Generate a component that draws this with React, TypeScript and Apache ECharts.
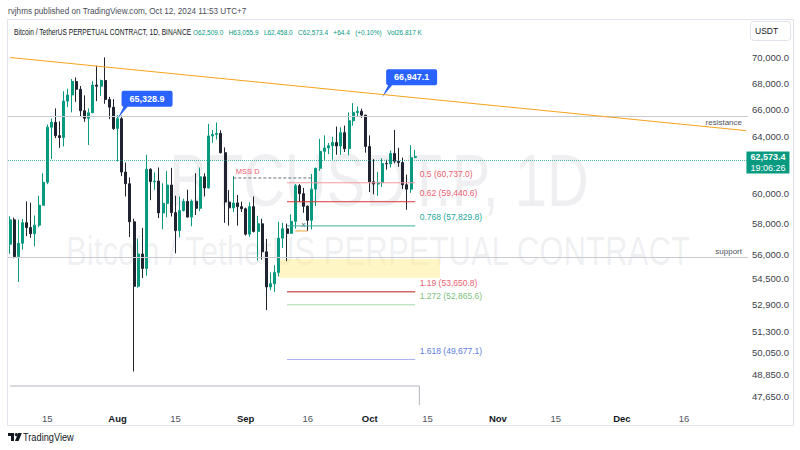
import { useEffect, useRef } from 'react';
import * as echarts from 'echarts';

// ---- calendar (category axis) ----
const FIRST_DAY = '2024-07-06';
const LAST_DAY = '2024-12-31';

// ---- daily candles Jul 6 .. Oct 12, 2024 (BTCUSDT.P, 1D) ----
const openPrices = [
  56640, 58230, 55850, 56700, 58040, 57720, 57320, 57880, 59200, 60770, 64700, 65060, 64080, 63950, 66650, 67120,
  68150, 67550, 65920, 65360, 65770, 67880, 67790, 68230, 66770, 66190,
  64600, 65330, 61480, 60670, 58100, 53990, 56010, 55100, 61680, 60820, 60860, 58690, 59330, 60580, 58710, 57520,
  58850, 59460, 58410, 59470, 59000, 61150, 60380, 64060, 64170, 64250, 62850, 59420, 59030, 59360, 59110,
  58970, 57290, 59110, 57470, 57970, 56150, 53950, 54150, 54850, 57030, 57640, 57340, 58130, 60540, 59990, 59130,
  58200, 60300, 61750, 62950, 63190, 63350, 63580, 63330, 64300, 63140, 65180, 65790, 65880, 65600,
  63300, 60800, 60650, 60750, 62080, 62060, 62800, 62250, 62150, 60600, 60300, 62509,
];
const highPrices = [
  58470, 58380, 58240, 58290, 59470, 59380, 58520, 59850, 61400, 64900, 65350, 66100, 65130, 67400, 67600, 68350,
  68470, 67800, 67090, 66100, 68200, 69380, 68300, 70050, 66970, 66800,
  65600, 65560, 62150, 61100, 58300, 57000, 57700, 62700, 61750, 61450, 61800, 60700, 61550, 61780, 59850, 59800,
  59650, 60260, 59600, 61400, 61800, 61400, 64950, 64500, 65050, 64480, 63230, 60230, 61200, 59900, 59450,
  59050, 59400, 59800, 58500, 58300, 56980, 54850, 55300, 58100, 58030, 57980, 58600, 60650, 60650, 60380, 59200,
  61350, 61780, 63850, 64100, 63550, 64000, 64750, 64700, 64820, 65800, 66500, 66250, 66080, 65600,
  64100, 62400, 61500, 62450, 62350, 63000, 64500, 63200, 62500, 61300, 63400, 63055.9,
];
const lowPrices = [
  56020, 55740, 54250, 56290, 57160, 57050, 56500, 57750, 59200, 60640, 62400, 63900, 63200, 63300, 66200, 65800,
  66600, 65450, 65100, 63400, 65750, 66650, 67050, 66450, 65300, 64500,
  62230, 61200, 59800, 57100, 49000, 53900, 54500, 54650, 59550, 60250, 58350, 57600, 58400, 58450, 56050, 57080,
  58780, 58400, 57800, 58550, 58800, 59800, 60350, 63560, 63800, 62800, 58030, 57850, 58750, 57850, 58750,
  57200, 57120, 57400, 55600, 55650, 52550, 53750, 53650, 54600, 56400, 55550, 57330, 57650, 59450, 58700, 57500,
  57600, 59150, 61570, 62350, 62750, 62350, 62700, 62700, 62900, 62670, 64820, 65450, 65400, 62850,
  60100, 59950, 59850, 60450, 61650, 61800, 62100, 61850, 60300, 58900, 60050, 62458,
];
const closePrices = [
  58230, 55850, 56700, 58040, 57720, 57320, 57880, 59200, 60770, 64700, 65060, 64080, 63950, 66650, 67120, 68150,
  67550, 65920, 65360, 65770, 67880, 67790, 68230, 66770, 66190, 64600,
  65328.9, 61480, 60670, 58100, 53990, 56010, 55100, 61680, 60820, 60860, 58690, 59330, 60580, 58710, 57520, 58850,
  59460, 58410, 59470, 59000, 61150, 60380, 64060, 64170, 64250, 62850, 59420, 59030, 59360, 59110, 58970,
  57290, 59110, 57470, 57970, 56150, 53950, 54150, 54850, 57030, 57640, 57340, 58130, 60540, 59990, 59130, 58200,
  60300, 61750, 62950, 63190, 63350, 63580, 63330, 64300, 63140, 65180, 65790, 65880, 65600, 63300,
  60800, 60650, 60750, 62080, 62060, 62800, 62250, 62150, 60600, 60300, 62500, 62573.4,
];

// ---- price axis (log scale, TradingView style) ----
const yTickPrices = [70000, 68000, 66000, 64000, 60000, 58000, 56000, 54500, 52900, 51300, 50050, 48850, 47650];
const Y_TOP_PRICE = 73175;
const Y_BOTTOM_PRICE = 47171;

// ---- time axis ticks ----
const xTickDates = ['2024-07-15', '2024-08-01', '2024-08-15', '2024-09-01', '2024-09-16', '2024-10-01',
  '2024-10-15', '2024-11-01', '2024-11-15', '2024-12-01', '2024-12-16'];
const xTickLabels = ['15', 'Aug', '15', 'Sep', '16', 'Oct', '15', 'Nov', '15', 'Dec', '16'];

// ---- drawings ----
const trendDates = ['2024-07-06', '2024-12-31'];
const trendPrices = [70040, 64450];
const resistancePrice = 65430;
const supportPrice = 55830;
const lastPrice = 62573.4;
const lastCountdown = '19:06:26';
const baselinePrice = 48200;
const baselineDates = ['2024-07-06', '2024-10-13'];
const mssDates = ['2024-08-29', '2024-09-17'];
const mssPrice = 61070;
const fibRatios = ['0.5', '0.62', '0.768', '1.19', '1.272', '1.618'];
const fibPrices = [60737.0, 59440.6, 57829.8, 53650.8, 52865.6, 49677.1];
const fibLineColors = ['#f29aa2', '#d9363e', '#3fae9f', '#b71c1c', '#a9d6a9', '#aab3f0'];
const fibTextColors = ['#e8606f', '#e8606f', '#26a69a', '#e8606f', '#7cbf7c', '#5b7be0'];
const fibDates = ['2024-09-11', '2024-10-12'];
const zoneDates = ['2024-09-09', '2024-10-18'];
const zonePrices = [55700, 54520];
const sweepDates = ['2024-09-13', '2024-09-16'];
const sweepPrice = 57500;
const sweepMarkDate = '2024-09-15';
const sweepMarkPrice = 57890;
const calloutDates = ['2024-08-01', '2024-10-04'];
const calloutPrices = [65328.9, 66947.1];

const FONT = 'Liberation Sans, Arial, sans-serif';
const L = Math.log;
const fmt = (v: number) => v.toLocaleString('en-US', { minimumFractionDigits: 1, maximumFractionDigits: 1 });

function buildDays(): string[] {
  const out: string[] = [];
  const d = new Date(FIRST_DAY + 'T00:00:00Z');
  const end = new Date(LAST_DAY + 'T00:00:00Z').getTime();
  while (d.getTime() <= end) {
    out.push(d.toISOString().slice(0, 10));
    d.setUTCDate(d.getUTCDate() + 1);
  }
  return out;
}

const CALLOUT_PATH = 'path://M4,2 Q4,0 6,0 L53,0 Q55,0 55,2 L55,14 Q55,16 53,16 L10,16 L0,28 L6,16 Q4,16 4,14 Z';

function segment(name: string, dates: string[], prices: number[], color: string, type: any, z: number): any {
  return {
    type: 'line', name, z, silent: true, symbol: 'none', color,
    data: dates.map((d, i) => [d, L(prices[i])]),
    lineStyle: { color, width: 1, type },
  };
}

export default function App() {
  const ref = useRef<HTMLDivElement>(null);
  useEffect(() => {
    if (!ref.current) return;
    const chart = echarts.init(ref.current, null, { renderer: 'svg' });
    const days = buildDays();
    const candles = openPrices.map((o, i) => [L(o), L(closePrices[i]), L(lowPrices[i]), L(highPrices[i])]);
    const yMin = L(Y_BOTTOM_PRICE);

    const fibSeries = fibPrices.map((p, i) => ({
      ...segment('fib ' + fibRatios[i], fibDates, [p, p], fibLineColors[i], 'solid', 6),
      markPoint: {
        silent: true, animation: false,
        data: [{
          coord: [fibDates[1], L(p)], symbol: 'circle', symbolSize: 1, itemStyle: { color: 'rgba(0,0,0,0)' },
          label: {
            show: true, position: 'right', distance: 4, offset: [0, -8.5],
            formatter: `${fibRatios[i]} (${fmt(p)})`, color: fibTextColors[i], fontSize: 8.5, fontFamily: FONT,
          },
        }],
      },
    }));

    const option: any = {
      animation: false,
      backgroundColor: '#ffffff',
      grid: { left: 8, right: 52, top: 19, bottom: 45, containLabel: false, outerBoundsMode: 'none' },
      xAxis: {
        type: 'category', data: days, boundaryGap: true,
        axisLine: { show: false }, axisTick: { show: false }, splitLine: { show: false },
        axisLabel: {
          interval: (_i: number, v: string) => xTickDates.includes(v),
          margin: 8, fontSize: 9.5, fontFamily: FONT, color: '#50535e',
          formatter: (v: string) => {
            const k = xTickDates.indexOf(v);
            if (k < 0) return '';
            const t = xTickLabels[k];
            return /^\d+$/.test(t) ? `{d|${t}}` : `{m|${t}}`;
          },
          rich: {
            d: { fontSize: 9.5, fontFamily: FONT, color: '#50535e' },
            m: { fontSize: 9.5, fontFamily: FONT, color: '#131722', fontWeight: 'bold' },
          },
        },
      },
      yAxis: {
        type: 'value', position: 'right', min: yMin, max: L(Y_TOP_PRICE), scale: true,
        axisLine: { show: false }, axisTick: { show: false }, splitLine: { show: false },
        axisLabel: {
          customValues: yTickPrices.map(L), margin: 4, fontSize: 9.5, fontFamily: FONT, color: '#3b3f4a',
          formatter: (v: number) => fmt(Math.round(Math.exp(v) * 10) / 10),
        },
      },
      graphic: [
        // watermark
        { type: 'text', x: 379, y: 180, scaleX: 0.77, z: 0, silent: true,
          style: { text: 'BTCUSDT.P, 1D', x: 0, y: 0, align: 'center', verticalAlign: 'middle', fontSize: 75, fontFamily: FONT, fill: 'rgba(130,135,145,0.13)' } },
        { type: 'text', x: 378, y: 252, scaleX: 0.78, z: 0, silent: true,
          style: { text: 'Bitcoin / TetherUS PERPETUAL CONTRACT', x: 0, y: 0, align: 'center', verticalAlign: 'middle', fontSize: 40, fontFamily: FONT, fill: 'rgba(130,135,145,0.13)' } },
        // frame
        { type: 'rect', z: 10, silent: true, shape: { x: 7.5, y: 19.5, width: 786, height: 406 },
          style: { fill: 'none', stroke: '#e0e3eb', lineWidth: 1 } },
        // header
        { type: 'text', x: 8, y: 11, scaleX: 0.86, z: 10,
          style: { text: 'rvjhms published on TradingView.com, Oct 12, 2024 11:53 UTC+7', x: 0, y: 0, verticalAlign: 'middle', fontSize: 9.5, fontFamily: FONT, fill: '#4a4d57' } },
        // legend
        { type: 'text', x: 14, y: 32, scaleX: 0.8, z: 10,
          style: { text: 'Bitcoin / TetherUS PERPETUAL CONTRACT, 1D, BINANCE', x: 0, y: 0, verticalAlign: 'middle', fontSize: 8.3, fontFamily: FONT, fill: '#131722' } },
        { type: 'text', x: 193, y: 32, scaleX: 0.8, z: 10,
          style: { text: 'O62,509.0   H63,055.9   L62,458.0   C62,573.4   +64.4   (+0.10%)   Vol26.817 K', x: 0, y: 0, verticalAlign: 'middle', fontSize: 8.1, fontFamily: FONT, fill: '#089981' } },
        // currency box
        { type: 'rect', z: 10, shape: { x: 750.5, y: 21.5, width: 40, height: 19, r: 3 },
          style: { fill: '#ffffff', stroke: '#e0e3eb', lineWidth: 1 } },
        { type: 'text', z: 11, x: 755, y: 31,
          style: { text: 'USDT', x: 0, y: 0, verticalAlign: 'middle', fontSize: 8.5, fontFamily: FONT, fill: '#131722' } },
        // TradingView logo
        { type: 'polygon', z: 10, shape: { points: [[8, 433], [14, 433], [14, 441], [11, 441], [11, 436], [8, 436]] }, style: { fill: '#131722' } },
        { type: 'circle', z: 10, shape: { cx: 16.3, cy: 434.6, r: 1.6 }, style: { fill: '#131722' } },
        { type: 'polygon', z: 10, shape: { points: [[18.2, 433], [21.8, 433], [18.6, 441], [15, 441]] }, style: { fill: '#131722' } },
        { type: 'text', z: 10, x: 23, y: 437.5, scaleX: 0.88,
          style: { text: 'TradingView', x: 0, y: 0, verticalAlign: 'middle', fontSize: 10.5, fontFamily: FONT, fill: '#131722' } },
      ],
      series: [
        {
          type: 'line', name: 'zone', data: [], z: 1, silent: true,
          markArea: {
            silent: true,
            itemStyle: { color: 'rgba(255,236,150,0.55)' },
            data: [[{ coord: [zoneDates[0], L(zonePrices[0])] }, { coord: [zoneDates[1], L(zonePrices[1])] }]],
          },
        },
        {
          type: 'candlestick', name: 'BTCUSDT.P', z: 3, data: candles, barWidth: 2.5,
          itemStyle: { color: '#089981', color0: '#1f2330', borderColor: '#089981', borderColor0: '#1f2330', borderWidth: 1 },
        },
        segment('baseline', baselineDates, [baselinePrice, baselinePrice], '#b2b5be', 'solid', 4),
        segment('baseline end', [baselineDates[1], baselineDates[1]], [baselinePrice, Y_BOTTOM_PRICE], '#b2b5be', 'solid', 4),
        {
          ...segment('MSS D', mssDates, [mssPrice, mssPrice], '#6a6d78', [3, 2], 5),
          markPoint: {
            silent: true, animation: false,
            data: [{
              coord: [mssDates[0], L(mssPrice)], symbol: 'circle', symbolSize: 1, itemStyle: { color: 'rgba(0,0,0,0)' },
              label: { show: true, position: 'right', offset: [0, -6], distance: 2, formatter: 'MSS D', color: '#f05a6e', fontSize: 7.5, fontFamily: FONT },
            }],
          },
        },
        segment('sweep', sweepDates, [sweepPrice, sweepPrice], '#e3a13a', 'solid', 5),
        ...fibSeries,
        {
          type: 'line', name: 'trend', z: 5, silent: true, symbol: 'none', color: '#f7a21b',
          data: trendDates.map((d, i) => [d, L(trendPrices[i])]),
          lineStyle: { color: '#f7a21b', width: 1 },
          markLine: {
            silent: true, symbol: ['none', 'none'], animation: false,
            label: { show: false },
            data: [
              { yAxis: L(resistancePrice), lineStyle: { color: '#c9cbd1', width: 1, type: 'solid' },
                label: { show: true, position: 'insideEndBottom', formatter: 'resistance', distance: [6, 2], color: '#50535e', fontSize: 8, fontFamily: FONT } },
              { yAxis: L(supportPrice), lineStyle: { color: '#c9cbd1', width: 1, type: 'solid' },
                label: { show: true, position: 'insideEndTop', formatter: 'support', distance: [6, 1], color: '#50535e', fontSize: 8, fontFamily: FONT } },
              { yAxis: L(lastPrice), lineStyle: { color: '#089981', width: 1, type: 'dotted', opacity: 0.7 }, label: { show: false } },
            ],
          },
          markPoint: {
            silent: true, animation: false,
            data: [
              ...calloutDates.map((d, i) => ({
                coord: [d, L(calloutPrices[i])], symbol: CALLOUT_PATH, symbolSize: [55, 28], symbolOffset: [27.5, -14],
                symbolKeepAspect: false, itemStyle: { color: '#2962ff' },
                label: { show: true, position: 'inside', offset: [2, -6], formatter: fmt(calloutPrices[i]), color: '#ffffff', fontSize: 9, fontWeight: 'bold', fontFamily: FONT },
              })),
              {
                coord: [LAST_DAY, L(lastPrice)], symbol: 'rect', symbolSize: [43, 22], symbolOffset: [22, 6],
                itemStyle: { color: '#089981' },
                label: {
                  show: true, position: 'inside', formatter: `{a|${fmt(lastPrice)}}\n{b|${lastCountdown}}`,
                  rich: {
                    a: { color: '#ffffff', fontSize: 9, fontWeight: 'bold', fontFamily: FONT, lineHeight: 11 },
                    b: { color: '#ffffff', fontSize: 9, fontFamily: FONT, lineHeight: 11 },
                  },
                },
              },
              {
                coord: [sweepMarkDate, L(sweepMarkPrice)], symbol: 'circle', symbolSize: 1, itemStyle: { color: 'rgba(0,0,0,0)' },
                label: { show: true, position: 'inside', formatter: 'x', color: '#50535e', fontSize: 8, fontFamily: FONT },
              },
            ],
          },
        },
      ],
    };
    chart.setOption(option);
    return () => chart.dispose();
  }, []);
  return <div ref={ref} style={{ position: 'fixed', left: 0, top: 0, width: 800, height: 450 }} />;
}
